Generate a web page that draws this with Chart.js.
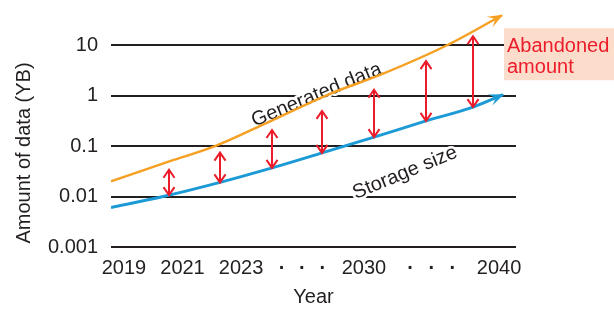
<!DOCTYPE html>
<html><head><meta charset="utf-8">
<script src="https://cdn.jsdelivr.net/npm/chart.js@4.4.1/dist/chart.umd.min.js"></script>
<style>html,body{margin:0;padding:0;background:#fff}</style>
</head><body>
<canvas id="c" width="614" height="309"></canvas>
<script>
// ---- data ----
const tickPositions = [0, 1, 2, 2.7, 3.05, 3.4, 4.1, 4.9, 5.26, 5.62, 6.41];
const tickLabels = ['2019', '2021', '2023', '·', '·', '·', '2030', '·', '·', '·', '2040'];
const yTickValues = [0.001, 0.01, 0.1, 1, 10];
const yTickLabels = ['0.001', '0.01', '0.1', '1', '10'];

const generatedX = [-0.222, 0.786, 1.556, 2.496, 3.521, 4.376, 5.521, 6.462];
const generatedY = [0.0201, 0.0503, 0.1, 0.31, 1.09, 2.58, 10, 39.3];

const storageX = [-0.222, 0.650, 1.641, 2.530, 3.385, 4.274, 5.162, 5.966, 6.479];
const storageY = [0.00608, 0.0099, 0.0191, 0.037, 0.0734, 0.151, 0.316, 0.594, 1.046];

const gapX = [0.769, 1.641, 2.530, 3.385, 4.274, 5.162, 5.966];
const gapTop = [0.034, 0.0745, 0.209, 0.499, 1.31, 4.85, 15.1];
const gapBottom = [0.0107, 0.0191, 0.037, 0.0734, 0.151, 0.316, 0.594];

// ---- styles ----
const TXT = '#231f20';
const ORANGE = '#f5a023';
const BLUE = '#1c9ad6';
const RED = '#ec1c2a';
const FONT = 'Liberation Sans, Arial, Helvetica, sans-serif';

function head(ctx, tipX, tipY, fromX, fromY, color, len, half) {
  const a = Math.atan2(tipY - fromY, tipX - fromX);
  ctx.save();
  ctx.translate(tipX, tipY);
  ctx.rotate(a);
  ctx.beginPath();
  ctx.moveTo(1, 0);
  ctx.lineTo(-len, -half);
  ctx.lineTo(-len * 0.55, 0);
  ctx.lineTo(-len, half);
  ctx.closePath();
  ctx.fillStyle = color;
  ctx.fill();
  ctx.restore();
}

function rotatedText(ctx, text, x, y, angleDeg) {
  ctx.save();
  ctx.translate(x, y);
  ctx.rotate(angleDeg * Math.PI / 180);
  ctx.font = '20px ' + FONT;
  ctx.textAlign = 'center';
  ctx.textBaseline = 'alphabetic';
  ctx.lineJoin = 'round';
  ctx.strokeStyle = '#fff';
  ctx.lineWidth = 5;
  ctx.strokeText(text, 0, 0);
  ctx.fillStyle = TXT;
  ctx.fillText(text, 0, 0);
  ctx.restore();
}

const annot = {
  id: 'annot',
  beforeDatasetsDraw(chart) {
    const {ctx, scales: {x, y}} = chart;
    rotatedText(ctx, 'Generated data', x.getPixelForValue(3.33), y.getPixelForValue(0.82), -22.5);
    rotatedText(ctx, 'Storage size', x.getPixelForValue(4.84), y.getPixelForValue(0.0234), -22.5);
  },
  afterDatasetsDraw(chart) {
    const {ctx, scales: {x, y}} = chart;
    [[generatedX, generatedY, ORANGE], [storageX, storageY, BLUE]].forEach(([xs, ys, col]) => {
      const n = xs.length;
      const tx = x.getPixelForValue(xs[n - 1]), ty = y.getPixelForValue(ys[n - 1]);
      const fx = x.getPixelForValue(xs[n - 2]), fy = y.getPixelForValue(ys[n - 2]);
      head(ctx, tx, ty, fx, fy, col, 14, 6);
    });
    ctx.save();
    ctx.strokeStyle = RED;
    ctx.lineWidth = 2;
    ctx.lineCap = 'butt';
    ctx.lineJoin = 'miter';
    gapX.forEach((gx, i) => {
      const px = Math.round(x.getPixelForValue(gx));
      const t = y.getPixelForValue(gapTop[i]);
      const b = y.getPixelForValue(gapBottom[i]);
      ctx.beginPath();
      ctx.moveTo(px, t + 1); ctx.lineTo(px, b - 1);
      ctx.stroke();
      ctx.beginPath();
      ctx.moveTo(px - 5.5, t + 8); ctx.lineTo(px, t); ctx.lineTo(px + 5.5, t + 8);
      ctx.stroke();
      ctx.beginPath();
      ctx.moveTo(px - 5.5, b - 8); ctx.lineTo(px, b); ctx.lineTo(px + 5.5, b - 8);
      ctx.stroke();
    });
    ctx.restore();
  },
  afterDraw(chart) {
    const {ctx, chartArea, scales: {y}} = chart;
    ctx.save();
    ctx.translate(24, 153);
    ctx.rotate(-Math.PI / 2);
    ctx.font = '20px ' + FONT;
    ctx.fillStyle = TXT;
    ctx.textAlign = 'center';
    ctx.textBaseline = 'middle';
    ctx.fillText('Amount of data (YB)', 0, 0);
    ctx.restore();
    const y10 = y.getPixelForValue(10);
    const left = chartArea.right - 12;
    ctx.save();
    ctx.fillStyle = '#fcdccb';
    ctx.fillRect(left, y10 - 17, chart.width - left, 52);
    ctx.font = '20px ' + FONT;
    ctx.fillStyle = RED;
    ctx.textAlign = 'left';
    ctx.textBaseline = 'alphabetic';
    ctx.fillText('Abandoned', left + 3, y10 + 7);
    ctx.fillText('amount', left + 3, y10 + 28);
    ctx.restore();
  }
};

new Chart(document.getElementById('c'), {
  type: 'line',
  data: {
    datasets: [
      {
        label: 'Generated data',
        data: generatedX.map((v, i) => ({x: v, y: generatedY[i]})),
        borderColor: ORANGE, borderWidth: 2.5, pointRadius: 0,
        cubicInterpolationMode: 'monotone', fill: false
      },
      {
        label: 'Storage size',
        data: storageX.map((v, i) => ({x: v, y: storageY[i]})),
        borderColor: BLUE, borderWidth: 3, pointRadius: 0,
        cubicInterpolationMode: 'monotone', fill: false
      }
    ]
  },
  options: {
    responsive: false,
    animation: false,
    layout: {padding: {left: 0, right: 98, top: 10, bottom: 0}},
    plugins: {legend: {display: false}, tooltip: {enabled: false}},
    scales: {
      x: {
        type: 'linear', min: -0.222, max: 6.70,
        grid: {display: false}, border: {display: false},
        afterBuildTicks: s => { s.ticks = tickPositions.map(v => ({value: v})); },
        afterFit: s => { s.height = 62; s.paddingLeft = 0; s.paddingRight = 0; },
        ticks: {
          autoSkip: false, maxRotation: 0, minRotation: 0, padding: 1,
          color: TXT,
          font: c => ({family: FONT, size: 20, weight: tickLabels[c.index] === '·' ? 'bold' : 'normal'}),
          callback: (v, i) => tickLabels[i]
        },
        title: {display: true, text: 'Year', color: TXT, font: {family: FONT, size: 20, lineHeight: 1.2}, padding: {top: 0, bottom: 0}}
      },
      y: {
        type: 'logarithmic', min: 0.001, max: 50,
        afterBuildTicks: s => { s.ticks = yTickValues.map(v => ({value: v})); },
        afterFit: s => { s.width = 111; s.paddingTop = 0; s.paddingBottom = 0; },
        grid: {color: TXT, lineWidth: 2, drawTicks: false},
        border: {display: false},
        ticks: {
          padding: 13, color: TXT, font: {family: FONT, size: 20},
          callback: (v, i) => yTickLabels[i]
        }
      }
    }
  },
  plugins: [annot]
});
</script>
</body></html>
